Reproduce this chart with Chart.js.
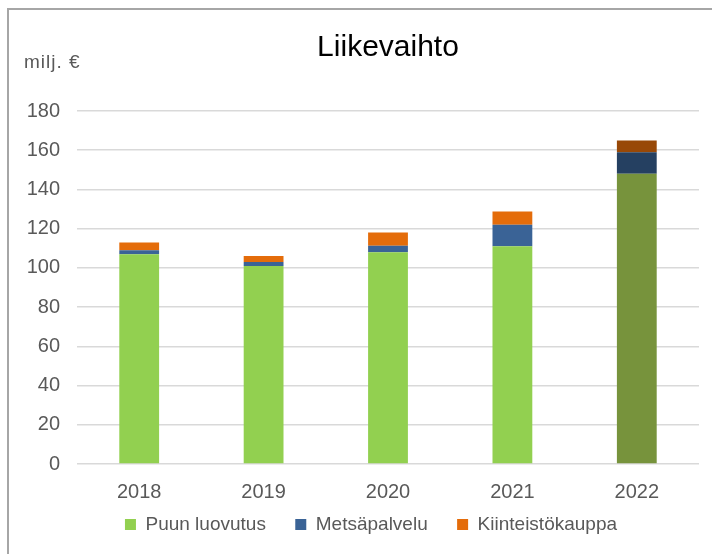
<!DOCTYPE html>
<html>
<head>
<meta charset="utf-8">
<script src="https://cdn.jsdelivr.net/npm/chart.js@4"></script>
<style>
  html, body { margin: 0; padding: 0; background: #fff; }
  #wrap { position: relative; width: 712px; height: 554px; }
  #frame { position: absolute; left: 7px; top: 8px; right: 0; bottom: 0;
           border-left: 2px solid #a6a6a6; border-top: 2px solid #a6a6a6; }
  canvas { position: absolute; left: 0; top: 0; }
</style>
</head>
<body>
<div id="wrap">
  <div id="frame"></div>
  <canvas id="myChart" width="712" height="554"></canvas>
</div>
<script>
const years = ["2018", "2019", "2020", "2021", "2022"];
const puunLuovutus = [107, 101, 108, 111, 148];
const metsapalvelu = [2, 2, 3.3, 11, 11];
const kiinteistokauppa = [4, 3, 6.8, 6.7, 6];
const yTicks = [0, 20, 40, 60, 80, 100, 120, 140, 160, 180];

const seriesNames = ["Puun luovutus", "Metsäpalvelu", "Kiinteistökauppa"];
const mainColors = ["#92d050", "#3a6396", "#e46c0a"];
const lastColors = ["#77933c", "#254061", "#984807"];

const colorsFor = (i) => years.map((y, k) => k === years.length - 1 ? lastColors[i] : mainColors[i]);

const gray = "#595959";
const font = "'Liberation Sans', Arial, sans-serif";

// title and unit label, placed over the plot area like in Excel
const titlePlugin = {
    id: "titles",
    beforeDraw(chart) {
        // Excel centres the legend over the plot area, not the whole canvas
        const lg = chart.legend;
        const area = chart.chartArea;
        const shift = (area.left + area.right) / 2 - (lg.left + lg.right) / 2 - 17;
        lg.left += shift;
        lg.right += shift;
    },
    afterDraw(chart) {
        const ctx = chart.ctx;
        const area = chart.chartArea;
        ctx.save();
        ctx.fillStyle = "#000";
        ctx.font = "30px " + font;
        ctx.textAlign = "center";
        ctx.textBaseline = "alphabetic";
        ctx.fillText("Liikevaihto", (area.left + area.right) / 2, 56);
        ctx.fillStyle = gray;
        ctx.font = "19px " + font;
        ctx.letterSpacing = "1px";
        ctx.textAlign = "left";
        ctx.fillText("milj. €", 24, 68);
        ctx.restore();
    }
};

new Chart("myChart", {
    type: "bar",
    data: {
        labels: years,
        datasets: [
            { label: seriesNames[0], data: puunLuovutus, backgroundColor: colorsFor(0) },
            { label: seriesNames[1], data: metsapalvelu, backgroundColor: colorsFor(1) },
            { label: seriesNames[2], data: kiinteistokauppa, backgroundColor: colorsFor(2) }
        ]
    },
    options: {
        responsive: false,
        animation: false,
        layout: { padding: { top: 111, left: 12, right: 13, bottom: 10 } },
        datasets: { bar: { barPercentage: 0.32, categoryPercentage: 1, borderWidth: 0 } },
        scales: {
            x: {
                stacked: true,
                grid: { display: false },
                border: { display: false },
                ticks: { color: gray, font: { size: 20, family: font }, padding: 8 }
            },
            y: {
                stacked: true,
                min: 0,
                max: 180,
                afterBuildTicks: (scale) => { scale.ticks = yTicks.map(v => ({ value: v })); },
                afterFit: (scale) => { scale.width = 65; },
                grid: { color: "#d9d9d9", lineWidth: 1.5, drawTicks: false },
                border: { display: false },
                ticks: { color: gray, font: { size: 20, family: font }, padding: 17 }
            }
        },
        plugins: {
            title: { display: false },
            tooltip: { enabled: false },
            legend: {
                position: "bottom",
                labels: {
                    color: gray,
                    font: { size: 19, family: font },
                    boxWidth: 11,
                    boxHeight: 11,
                    padding: 3,
                    generateLabels: (chart) => seriesNames.map((name, i) => ({
                        text: i < seriesNames.length - 1 ? name + "     " : name,
                        fillStyle: mainColors[i],
                        strokeStyle: mainColors[i],
                        lineWidth: 0,
                        datasetIndex: i,
                        fontColor: gray
                    }))
                }
            }
        }
    },
    plugins: [titlePlugin]
});
</script>
</body>
</html>
